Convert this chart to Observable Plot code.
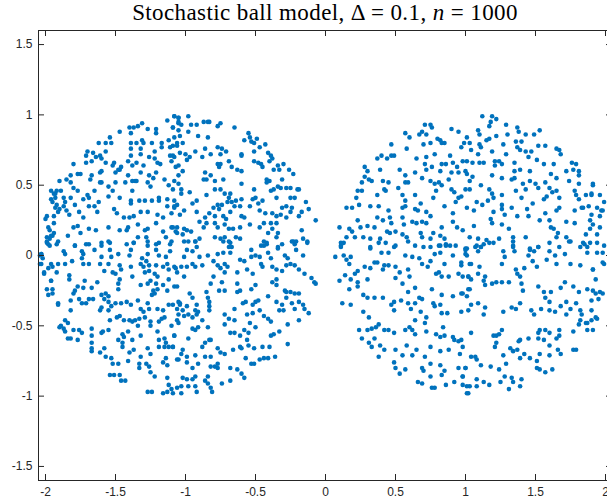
<!DOCTYPE html>
<html>
<head>
<meta charset="utf-8">
<script src="https://cdn.jsdelivr.net/npm/d3@7"></script>
<script src="https://cdn.jsdelivr.net/npm/@observablehq/plot@0.6"></script>
<style>
  html, body { margin: 0; padding: 0; background: #fff; overflow: hidden; }
  #title { width: 650px; height: 26px; line-height: 26px; text-align: center; font-family: "Liberation Serif", serif; font-size: 23px; letter-spacing: 0.4px; color: #000; white-space: nowrap; }
  #title i { font-style: italic; }
  #chart svg { overflow: visible; max-width: none; }
</style>
</head>
<body>
<div id="title">Stochastic ball model, Δ = 0.1, <i>n</i> = 1000</div>
<div id="chart"></div>
<script>
// Tick values
const xTicks = [-2, -1.5, -1, -0.5, 0, 0.5, 1, 1.5, 2];
const yTicks = [-1.5, -1, -0.5, 0, 0.5, 1, 1.5];

// Left ball, upper-left region
const leftA = [[-1.08,0.99],[-1.05,0.98],[-1.13,0.96],[-1.05,0.94],[-1.31,0.94],[-1.34,0.92],[-1.37,0.91],[-1.40,0.91],[-1.21,0.90],[-1.21,0.87],[-1.27,0.90],[-1.39,0.87],[-1.09,0.91],[-1.05,0.89],[-1.47,0.88],
[-1.54,0.84],[-1.53,0.80],[-1.57,0.80],[-1.62,0.80],[-1.39,0.80],[-1.35,0.80],[-1.31,0.82],[-1.30,0.80],[-1.24,0.80],[-1.17,0.80],[-1.12,0.82],[-1.06,0.80],[-1.09,0.78],[-1.11,0.77],[-1.17,0.77],[-1.22,0.74],[-1.32,0.76],[-1.39,0.76],[-1.70,0.74],[-1.66,0.73],[-1.61,0.71],[-1.60,0.69],[-1.64,0.70],[-1.57,0.74],[-1.71,0.71],
[-1.80,0.65],[-1.71,0.66],[-1.67,0.67],[-1.51,0.66],[-1.52,0.64],[-1.57,0.66],[-1.41,0.67],[-1.39,0.71],[-1.38,0.64],[-1.35,0.66],[-1.32,0.72],[-1.26,0.70],[-1.22,0.69],[-1.20,0.66],[-1.18,0.65],[-1.11,0.71],[-1.08,0.70],[-1.10,0.67],[-1.05,0.64],[-1.30,0.64],[-1.47,0.61],[-1.46,0.63],
[-1.77,0.58],[-1.75,0.58],[-1.82,0.57],[-1.82,0.52],[-1.85,0.54],[-1.90,0.53],[-1.67,0.57],[-1.68,0.54],[-1.61,0.59],[-1.60,0.60],[-1.50,0.59],[-1.48,0.61],[-1.41,0.57],[-1.38,0.53],[-1.36,0.53],[-1.35,0.53],[-1.43,0.52],[-1.50,0.52],[-1.55,0.49],[-1.61,0.52],[-1.60,0.52],[-1.26,0.57],[-1.23,0.55],[-1.21,0.59],[-1.15,0.54],[-1.12,0.50],[-1.08,0.53],[-1.05,0.57],[-1.27,0.52],[-1.25,0.49],[-1.32,0.59],
[-1.96,0.46],[-1.92,0.46],[-1.89,0.46],[-1.93,0.44],[-1.96,0.40],[-1.87,0.41],[-1.82,0.41],[-1.86,0.38],[-1.73,0.40],[-1.69,0.41],[-1.65,0.46],[-1.70,0.43],[-1.62,0.38],[-1.55,0.42],[-1.47,0.41],[-1.39,0.39],[-1.39,0.37],[-1.33,0.39],[-1.29,0.39],[-1.24,0.39],[-1.19,0.39],[-1.13,0.40],[-1.08,0.39],[-1.08,0.34],[-1.13,0.35],[-1.19,0.41],[-1.38,0.46],[-1.52,0.46],[-1.77,0.46],[-1.80,0.48],
[-1.92,0.36],[-1.93,0.34],[-1.90,0.33],[-1.87,0.35],[-1.85,0.32],[-1.83,0.29],[-1.91,0.31],[-1.94,0.28],[-1.99,0.28],[-2.00,0.26],[-1.79,0.36],[-1.76,0.31],[-1.73,0.27],[-1.69,0.35],[-1.65,0.35],[-1.63,0.31],[-1.51,0.33],[-1.49,0.30],[-1.44,0.27],[-1.40,0.27],[-1.37,0.28],[-1.32,0.31],[-1.27,0.31],[-1.20,0.29],[-1.16,0.27],[-1.10,0.30],[-1.06,0.36],
[-1.98,0.20],[-1.99,0.13],[-1.97,0.12],[-1.95,0.14],[-1.80,0.20],[-1.77,0.21],[-1.75,0.16],[-1.69,0.19],[-1.64,0.18],[-1.55,0.20],[-1.47,0.18],[-1.42,0.18],[-1.41,0.20],[-1.34,0.22],[-1.29,0.18],[-1.27,0.19],[-1.21,0.23],[-1.16,0.17],[-1.10,0.20],[-1.07,0.17],[-1.84,0.14],[-1.79,0.07],[-1.71,0.08],[-1.60,0.09],[-1.54,0.09],[-1.42,0.08],[-1.37,0.09],[-1.34,0.13],[-1.28,0.13],[-1.27,0.10],[-1.21,0.08],[-1.14,0.13],[-1.11,0.08],[-1.91,0.10],
[-2.03,0.01],[-2.02,-0.02],[-2.04,-0.06],[-2.01,-0.13],[-1.98,-0.28],[-1.96,-0.18],[-1.95,-0.24],[-1.98,-0.09],[-1.95,-0.08],[-1.96,0.14],[-1.94,0.16],[-1.97,0.18],[-1.94,0.23],[-1.93,0.41],[-1.95,0.38],[-1.94,0.44],[-1.91,-0.35],[-1.90,-0.51],[-1.99,0.10],[-1.98,0.08]];

// Left ball, upper-right region
const leftB = [[-1.08,0.99],[-1.05,0.98],[-1.05,0.95],[-0.98,0.99],[-1.03,0.93],[-0.96,0.93],[-0.92,0.93],[-0.87,0.95],[-0.84,0.95],[-0.83,0.95],[-0.77,0.92],[-0.75,0.94],[-0.98,0.88],[-1.09,0.91],[-0.65,0.91],[-0.55,0.87],[-0.54,0.84],
[-1.08,0.84],[-1.04,0.85],[-1.02,0.80],[-1.06,0.78],[-0.91,0.85],[-0.84,0.84],[-0.77,0.77],[-0.74,0.76],[-0.71,0.74],[-0.58,0.82],[-0.53,0.81],[-0.51,0.80],[-0.49,0.83],[-0.47,0.77],[-0.43,0.79],[-0.51,0.74],[-1.09,0.71],
[-1.04,0.73],[-1.00,0.72],[-0.97,0.70],[-0.99,0.68],[-0.93,0.74],[-0.86,0.76],[-0.82,0.72],[-0.75,0.72],[-0.88,0.70],[-0.60,0.72],[-0.60,0.71],[-0.41,0.73],[-0.39,0.71],[-0.38,0.69],[-0.40,0.67],[-0.69,0.67],[-0.77,0.65],[-0.75,0.65],[-0.51,0.67],[-0.48,0.66],[-0.46,0.65],[-0.45,0.63],[-0.37,0.61],[-0.34,0.64],[-0.30,0.65],[-0.26,0.61],[-0.23,0.58],[-0.33,0.61],[-0.63,0.61],[-0.60,0.60],[-0.76,0.63],[-0.67,0.63],[-1.02,0.60],[-1.07,0.63],
[-0.86,0.59],[-0.85,0.54],[-0.87,0.54],[-0.82,0.57],[-0.79,0.53],[-0.73,0.54],[-0.60,0.51],[-1.05,0.51],[-0.42,0.54],[-0.40,0.53],[-0.42,0.52],[-0.34,0.49],[-0.32,0.48],[-0.28,0.48],[-0.31,0.54],[-0.37,0.47],[-0.39,0.46],[-0.25,0.48],[-0.20,0.47],[-0.19,0.47],[-1.09,0.47],
[-1.03,0.47],[-1.03,0.44],[-0.97,0.45],[-0.92,0.39],[-0.95,0.37],[-0.85,0.43],[-0.79,0.47],[-0.75,0.47],[-0.72,0.44],[-0.69,0.41],[-0.68,0.44],[-0.67,0.38],[-0.64,0.39],[-0.60,0.40],[-0.51,0.47],[-0.52,0.40],[-0.50,0.41],[-0.45,0.39],[-0.35,0.41],[-0.28,0.35],[-0.25,0.41],[-0.22,0.41],[-0.14,0.38],[-0.12,0.33],[-0.07,0.25],[-1.08,0.35],[-1.01,0.32],[-1.04,0.29],
[-0.80,0.34],[-0.77,0.36],[-0.74,0.36],[-0.76,0.33],[-0.70,0.38],[-0.83,0.30],[-0.79,0.28],[-0.73,0.28],[-0.71,0.26],[-0.68,0.31],[-0.65,0.35],[-0.61,0.35],[-0.60,0.28],[-0.58,0.27],[-0.54,0.35],[-0.48,0.37],[-0.47,0.32],[-0.43,0.30],[-0.38,0.30],[-0.35,0.28],[-0.32,0.29],[-0.31,0.34],[-0.24,0.34],[-0.25,0.31],[-0.19,0.28],[-0.17,0.31],[-0.92,0.31],[-0.86,0.27],[-0.90,0.24],
[-1.09,0.20],[-1.06,0.20],[-1.01,0.19],[-0.99,0.18],[-1.06,0.16],[-1.02,0.15],[-0.96,0.17],[-0.87,0.20],[-0.85,0.23],[-0.79,0.23],[-0.77,0.20],[-0.72,0.22],[-0.69,0.19],[-0.66,0.19],[-0.61,0.20],[-0.54,0.22],[-0.47,0.20],[-0.44,0.23],[-0.39,0.23],[-0.35,0.23],[-0.38,0.19],[-0.41,0.16],[-0.34,0.16],[-0.28,0.27],[-0.17,0.18],[-0.90,0.12],[-0.93,0.10],[-0.79,0.13],[-0.75,0.12],[-0.72,0.13],[-0.69,0.10],[-0.64,0.13],[-0.61,0.12],[-0.44,0.07],[-0.42,0.09],[-0.35,0.13],[-0.34,0.05],[-0.23,0.10],[-0.21,0.10],[-0.22,0.08],[-0.16,0.12],[-0.13,0.09],[-1.01,0.10],[-0.67,0.06]];

// Left ball, lower-left region
const leftC = [[-1.99,0.09],[-1.97,0.07],[-1.92,0.08],[-1.79,0.07],[-1.69,0.08],[-1.60,0.07],[-1.55,0.10],[-1.37,0.09],[-1.27,0.07],[-1.19,0.09],[-1.10,0.10],[-2.04,0.00],[-2.03,0.01],[-2.03,-0.06],[-1.87,0.03],[-1.86,0.01],[-1.74,0.03],[-1.73,0.01],[-1.74,-0.02],[-1.65,0.04],[-1.60,-0.01],[-1.54,0.04],[-1.53,-0.01],[-1.48,0.01],[-1.39,0.04],[-1.40,0.00],[-1.27,0.01],[-1.31,-0.02],[-1.21,0.04],[-1.19,0.00],[-1.14,-0.01],[-1.11,0.03],
[-1.96,-0.06],[-2.01,-0.12],[-1.91,-0.06],[-1.86,-0.06],[-1.92,-0.12],[-1.83,-0.14],[-1.81,-0.04],[-1.73,-0.06],[-1.69,-0.06],[-1.61,-0.06],[-1.58,-0.11],[-1.55,-0.06],[-1.52,-0.12],[-1.50,-0.13],[-1.47,-0.07],[-1.46,-0.10],[-1.39,-0.08],[-1.32,-0.06],[-1.30,-0.08],[-1.28,-0.04],[-1.26,-0.07],[-1.29,-0.12],[-1.26,-0.11],[-1.21,-0.07],[-1.16,-0.08],[-1.13,-0.06],[-1.12,-0.10],[-1.08,-0.08],[-1.22,-0.13],[-1.20,-0.15],
[-1.96,-0.18],[-1.99,-0.24],[-1.95,-0.27],[-1.83,-0.17],[-1.79,-0.25],[-1.77,-0.22],[-1.72,-0.18],[-1.73,-0.23],[-1.67,-0.23],[-1.69,-0.31],[-1.63,-0.19],[-1.57,-0.27],[-1.55,-0.29],[-1.48,-0.20],[-1.47,-0.17],[-1.48,-0.24],[-1.38,-0.15],[-1.32,-0.21],[-1.27,-0.20],[-1.25,-0.18],[-1.21,-0.20],[-1.20,-0.24],[-1.23,-0.25],[-1.22,-0.27],[-1.24,-0.28],[-1.16,-0.21],[-1.13,-0.25],[-1.12,-0.17],[-1.08,-0.22],[-1.04,-0.34],[-1.06,-0.38],
[-1.91,-0.34],[-1.82,-0.32],[-1.80,-0.27],[-1.76,-0.31],[-1.74,-0.34],[-1.71,-0.34],[-1.66,-0.31],[-1.60,-0.28],[-1.58,-0.31],[-1.55,-0.33],[-1.53,-0.36],[-1.60,-0.37],[-1.61,-0.39],[-1.50,-0.34],[-1.46,-0.34],[-1.42,-0.33],[-1.39,-0.35],[-1.34,-0.32],[-1.32,-0.38],[-1.30,-0.40],[-1.27,-0.34],[-1.26,-0.38],[-1.20,-0.38],[-1.16,-0.39],[-1.12,-0.35],[-1.09,-0.35],
[-1.82,-0.39],[-1.55,-0.39],[-1.49,-0.44],[-1.47,-0.43],[-1.44,-0.46],[-1.40,-0.46],[-1.38,-0.47],[-1.36,-0.46],[-1.33,-0.45],[-1.34,-0.50],[-1.29,-0.44],[-1.25,-0.47],[-1.19,-0.47],[-1.17,-0.45],[-1.15,-0.44],[-1.86,-0.46],[-1.84,-0.48],[-1.54,-0.46],
[-1.89,-0.50],[-1.87,-0.52],[-1.86,-0.54],[-1.80,-0.53],[-1.84,-0.59],[-1.82,-0.59],[-1.76,-0.53],[-1.74,-0.55],[-1.77,-0.60],[-1.67,-0.52],[-1.67,-0.57],[-1.60,-0.55],[-1.59,-0.54],[-1.55,-0.53],[-1.48,-0.60],[-1.45,-0.56],[-1.44,-0.58],[-1.41,-0.54],[-1.38,-0.60],[-1.32,-0.57],[-1.25,-0.50],[-1.20,-0.54],[-1.19,-0.60],[-1.15,-0.59],[-1.10,-0.50],[-1.08,-0.57],[-1.06,-0.46],
[-1.67,-0.62],[-1.67,-0.66],[-1.67,-0.68],[-1.61,-0.69],[-1.58,-0.66],[-1.57,-0.72],[-1.53,-0.73],[-1.45,-0.62],[-1.45,-0.65],[-1.40,-0.69],[-1.37,-0.67],[-1.32,-0.72],[-1.27,-0.66],[-1.25,-0.70],[-1.19,-0.65],[-1.14,-0.62],[-1.15,-0.65],[-1.12,-0.65],[-1.09,-0.65],[-1.14,-0.73],[-1.06,-0.74],
[-1.52,-0.77],[-1.48,-0.77],[-1.41,-0.75],[-1.54,-0.85],[-1.51,-0.85],[-1.47,-0.85],[-1.46,-0.89],[-1.43,-0.89],[-1.33,-0.77],[-1.33,-0.80],[-1.28,-0.77],[-1.26,-0.79],[-1.25,-0.83],[-1.22,-0.86],[-1.16,-0.76],[-1.13,-0.78],[-1.13,-0.87],[-1.12,-0.92],[-1.10,-0.95],[-1.27,-0.97],[-1.24,-0.97],[-1.16,-0.98],[-1.13,-0.97],[-1.09,-0.98],[-1.06,-0.94]];

// Left ball, lower-right region
const leftD = [[-0.98,0.10],[-0.93,0.10],[-0.92,0.06],[-0.99,0.04],[-0.95,0.03],[-0.73,0.10],[-0.68,0.09],[-0.69,0.06],[-0.53,0.04],[-0.46,0.07],[-0.44,0.10],[-0.42,0.08],[-0.34,0.06],[-0.31,0.08],[-0.24,0.10],[-0.21,0.04],[-0.13,0.10],[-0.77,0.01],[-0.73,0.02],[-0.68,0.02],[-0.61,-0.03],[-0.58,-0.04],[-0.53,-0.01],[-0.50,0.00],[-0.47,-0.01],[-0.41,0.02],[-0.39,-0.02],[-0.29,0.00],[-0.27,-0.02],[-0.16,0.00],[-1.07,-0.09],[-1.01,-0.01],[-0.90,-0.01],[-0.84,0.00],[-0.80,-0.04],
[-1.06,-0.12],[-1.03,-0.08],[-0.99,-0.08],[-0.95,-0.06],[-0.93,-0.08],[-0.88,-0.07],[-0.77,-0.07],[-0.75,-0.09],[-0.72,-0.06],[-0.70,-0.08],[-0.72,-0.12],[-0.63,-0.12],[-0.56,-0.10],[-0.52,-0.13],[-0.46,-0.06],[-0.45,-0.08],[-0.38,-0.08],[-0.35,-0.10],[-0.31,-0.11],[-0.28,-0.07],[-0.25,-0.06],[-0.22,-0.07],[-0.19,-0.10],[-0.15,-0.13],[-0.10,-0.16],[-0.08,-0.19],[-0.07,-0.20],
[-1.01,-0.15],[-1.06,-0.22],[-0.80,-0.15],[-0.82,-0.20],[-0.85,-0.26],[-0.74,-0.19],[-0.76,-0.25],[-0.72,-0.25],[-0.63,-0.20],[-0.61,-0.25],[-0.63,-0.26],[-0.50,-0.21],[-0.53,-0.24],[-0.38,-0.19],[-0.35,-0.17],[-0.35,-0.21],[-0.29,-0.25],[-0.28,-0.26],[-0.25,-0.26],[-0.22,-0.27],[-0.19,-0.27],[-0.97,-0.27],[-0.95,-0.30],[-0.84,-0.30],
[-1.05,-0.33],[-1.04,-0.35],[-1.02,-0.39],[-0.99,-0.36],[-0.93,-0.39],[-0.91,-0.40],[-0.92,-0.35],[-0.83,-0.33],[-0.83,-0.36],[-0.83,-0.39],[-0.65,-0.38],[-0.59,-0.34],[-0.57,-0.33],[-0.52,-0.35],[-0.50,-0.33],[-0.48,-0.32],[-0.47,-0.39],[-0.41,-0.29],[-0.35,-0.33],[-0.28,-0.30],[-0.31,-0.35],[-0.33,-0.39],[-0.30,-0.39],[-0.24,-0.34],[-0.22,-0.38],[-0.19,-0.33],[-0.16,-0.35],[-0.15,-0.38],[-0.12,-0.41],
[-1.05,-0.42],[-1.01,-0.43],[-0.98,-0.42],[-0.95,-0.44],[-0.92,-0.42],[-0.88,-0.46],[-1.05,-0.48],[-0.72,-0.42],[-0.72,-0.49],[-0.69,-0.45],[-0.65,-0.46],[-0.56,-0.42],[-0.54,-0.48],[-0.52,-0.41],[-0.50,-0.51],[-0.44,-0.43],[-0.41,-0.45],[-0.39,-0.47],[-0.39,-0.57],[-0.37,-0.56],[-0.33,-0.54],[-0.27,-0.49],[-0.19,-0.46],[-0.27,-0.63],
[-0.95,-0.52],[-0.93,-0.53],[-0.98,-0.59],[-0.91,-0.51],[-0.84,-0.51],[-0.83,-0.60],[-1.08,-0.57],[-0.68,-0.55],[-0.65,-0.55],[-0.61,-0.57],[-0.58,-0.53],[-0.55,-0.55],[-0.56,-0.60],
[-1.09,-0.65],[-1.02,-0.67],[-1.03,-0.70],[-0.99,-0.72],[-0.93,-0.71],[-0.88,-0.65],[-0.86,-0.62],[-0.82,-0.60],[-0.86,-0.72],[-0.82,-0.72],[-0.77,-0.66],[-0.75,-0.69],[-0.72,-0.70],[-0.66,-0.67],[-0.61,-0.65],[-0.60,-0.66],[-0.57,-0.73],[-0.55,-0.64],[-0.51,-0.66],[-0.45,-0.65],[-0.40,-0.65],[-0.47,-0.74],[-0.44,-0.73],[-0.41,-0.73],[-0.36,-0.72],[-0.53,-0.77],[-0.51,-0.77],
[-1.05,-0.74],[-0.99,-0.76],[-0.95,-0.80],[-0.91,-0.77],[-0.82,-0.79],[-0.79,-0.79],[-0.77,-0.77],[-0.77,-0.80],[-1.02,-0.87],[-0.99,-0.88],[-0.95,-0.88],[-0.93,-0.86],[-1.03,-0.93],[-0.98,-0.93],[-0.93,-0.93],[-0.92,-0.97],[-1.03,-0.98],[-0.86,-0.89],[-0.84,-0.91],[-0.82,-0.94],[-0.81,-0.97],[-0.84,-0.86],[-0.74,-0.91],[-0.68,-0.80],[-0.68,-0.89],[-0.63,-0.81],[-0.60,-0.84],[-0.58,-0.87]];

// Right ball, upper-left region
const rightA = [[0.71,0.93],[0.75,0.93],[0.76,0.91],[0.69,0.88],[0.67,0.86],[0.72,0.86],[0.57,0.87],[0.60,0.84],[0.90,0.90],[0.95,0.88],[0.80,0.83],[0.82,0.82],[0.83,0.80],[0.85,0.80],[0.70,0.79],[0.75,0.80],[0.47,0.79],[0.58,0.76],[0.47,0.71],[0.49,0.71],[0.44,0.69],[0.40,0.71],[0.37,0.69],[0.65,0.69],[0.72,0.70],[0.78,0.72],[0.83,0.65],[0.86,0.65],[0.89,0.71],[0.71,0.65],[0.76,0.63],[0.91,0.66],[0.94,0.63],[0.90,0.59],[0.95,0.59],[0.82,0.60],[0.72,0.61],[0.64,0.59],[0.57,0.57],[0.53,0.61],[0.39,0.61],[0.28,0.63],[0.30,0.60],[0.28,0.56],[0.31,0.54],[0.33,0.53],[0.26,0.52],[0.41,0.53],[0.45,0.52],[0.52,0.48],[0.57,0.52],[0.59,0.52],[0.69,0.55],[0.75,0.53],[0.78,0.51],[0.81,0.52],[0.83,0.50],[0.79,0.46],[0.90,0.47],[0.88,0.54],[0.92,0.45],[0.95,0.41],[0.93,0.38],
[0.23,0.46],[0.26,0.46],[0.22,0.41],[0.24,0.36],[0.37,0.43],[0.42,0.47],[0.43,0.46],[0.55,0.43],[0.57,0.39],[0.57,0.35],[0.64,0.43],[0.68,0.37],[0.72,0.31],[0.77,0.41],[0.85,0.35],[0.91,0.30],[0.55,0.34],[0.64,0.33],[0.66,0.32],[0.15,0.34],[0.19,0.34],[0.32,0.35],[0.38,0.35],[0.45,0.32],[0.37,0.27],[0.41,0.25],[0.46,0.27],[0.47,0.23],[0.55,0.27],[0.56,0.22],[0.62,0.24],[0.65,0.23],[0.69,0.24],[0.72,0.23],[0.75,0.28],[0.83,0.20],[0.91,0.24],[0.94,0.20],[0.23,0.25],[0.10,0.20],[0.17,0.19],[0.19,0.17],[0.25,0.20],[0.30,0.21],[0.35,0.20],[0.44,0.17],[0.46,0.16],[0.50,0.17],[0.55,0.15],[0.58,0.13],[0.68,0.16],[0.77,0.16],[0.82,0.14],[0.85,0.12],[0.15,0.13],[0.11,0.09],[0.11,0.06],[0.21,0.13],[0.27,0.13],[0.32,0.12],[0.39,0.12],[0.43,0.09],[0.49,0.06],[0.69,0.13],[0.75,0.12],[0.81,0.07],[0.86,0.07],[0.32,0.06]];

// Right ball, upper-right region
const rightB = [[1.12,0.99],[1.19,0.99],[1.22,0.97],[1.18,0.95],[1.17,0.92],[1.09,0.89],[1.10,0.86],[1.15,0.82],[1.17,0.83],[1.22,0.85],[1.29,0.93],[1.30,0.86],[1.37,0.91],[1.38,0.88],[1.43,0.86],[1.49,0.86],[1.53,0.89],[1.01,0.84],[1.03,0.80],[0.99,0.80],[0.97,0.77],[1.10,0.79],[1.11,0.77],[1.27,0.79],[1.36,0.81],[1.40,0.81],[1.37,0.77],[1.39,0.75],[1.43,0.74],[1.47,0.74],[1.52,0.78],[1.57,0.78],[1.45,0.70],[1.51,0.68],[1.04,0.75],[1.19,0.74],[1.09,0.72],[1.29,0.72],[1.65,0.76],[1.67,0.75],[1.68,0.72],
[0.98,0.67],[1.01,0.67],[1.05,0.66],[1.10,0.66],[1.13,0.66],[1.21,0.67],[1.24,0.67],[1.26,0.65],[1.21,0.64],[1.35,0.66],[1.39,0.61],[1.35,0.60],[1.46,0.60],[1.56,0.65],[1.63,0.65],[1.76,0.66],[1.79,0.65],[1.72,0.60],[1.77,0.61],[1.81,0.60],[1.81,0.57],[1.00,0.60],[1.01,0.58],[1.05,0.56],[1.03,0.53],[1.19,0.57],[1.26,0.55],[1.33,0.54],[1.35,0.55],[1.41,0.51],[1.46,0.53],[1.50,0.51],[1.52,0.48],[1.57,0.52],[1.61,0.58],[1.65,0.55],[1.74,0.53],[1.81,0.51],[1.91,0.51],[1.78,0.46],[1.79,0.43],[1.81,0.40],[1.86,0.43],[1.90,0.43],
[1.00,0.47],[1.03,0.47],[0.97,0.42],[1.11,0.50],[1.17,0.47],[1.19,0.44],[1.20,0.41],[1.16,0.39],[1.08,0.38],[1.12,0.36],[1.26,0.43],[1.36,0.46],[1.40,0.41],[1.43,0.47],[1.48,0.37],[1.56,0.40],[1.58,0.42],[1.60,0.48],[1.62,0.45],[1.65,0.46],[1.67,0.41],[1.67,0.34],[1.65,0.32],[1.78,0.32],[1.83,0.34],[1.88,0.35],[1.94,0.34],[1.97,0.32],[1.90,0.29],[1.26,0.36],[1.26,0.33],[1.28,0.29],[1.20,0.31],[1.18,0.26],[1.19,0.23],[1.01,0.34],[1.06,0.32],[1.33,0.34],[1.37,0.28],[1.44,0.33],[1.45,0.28],[1.53,0.25],[1.57,0.30],[1.60,0.25],[1.61,0.20],[1.63,0.19],[1.66,0.16],[1.72,0.24],[1.78,0.23],[1.89,0.19],
[1.06,0.21],[0.98,0.18],[1.03,0.13],[1.09,0.12],[1.15,0.11],[1.13,0.08],[1.11,0.06],[1.20,0.09],[1.24,0.12],[1.26,0.22],[1.31,0.19],[1.34,0.13],[1.34,0.06],[1.43,0.13],[1.52,0.06],[1.46,0.05],[1.60,0.09],[1.65,0.13],[1.72,0.13],[1.74,0.10],[1.85,0.08],[1.82,0.06],[1.01,0.05],[1.07,0.06]];

// Right ball, lower-left region
const rightC = [[0.11,0.07],[0.13,0.09],[0.32,0.05],[0.38,0.09],[0.50,0.07],[0.59,0.10],[0.64,0.07],[0.70,0.06],[0.75,0.06],[0.82,0.07],[0.86,0.08],[0.89,0.07],[0.93,0.07],[1.00,0.05],[0.07,-0.01],[0.13,0.00],[0.15,-0.03],[0.17,-0.06],[0.18,-0.01],[0.40,0.02],[0.45,0.02],[0.57,0.00],[0.62,-0.01],[0.67,-0.02],[0.69,-0.06],[0.75,-0.04],[0.78,0.01],[0.82,0.02],[0.85,-0.06],[0.91,0.00],[0.97,-0.05],[1.01,0.00],[1.04,-0.06],
[0.35,-0.05],[0.37,-0.05],[0.42,-0.07],[0.41,-0.10],[0.45,-0.07],[0.28,-0.08],[0.32,-0.09],[0.23,-0.11],[0.21,-0.13],[0.14,-0.14],[0.10,-0.18],[0.18,-0.17],[0.17,-0.24],[0.23,-0.19],[0.23,-0.22],[0.30,-0.17],[0.50,-0.08],[0.53,-0.12],[0.50,-0.16],[0.59,-0.10],[0.60,-0.15],[0.73,-0.08],[0.79,-0.13],[0.81,-0.12],[0.83,-0.15],[0.88,-0.15],[0.95,-0.13],[1.02,-0.15],[1.04,-0.17],
[0.55,-0.20],[0.59,-0.26],[0.64,-0.23],[0.67,-0.30],[0.69,-0.31],[0.76,-0.24],[0.83,-0.28],[0.91,-0.29],[0.98,-0.27],[1.02,-0.24],[0.27,-0.28],[0.30,-0.30],[0.35,-0.30],[0.41,-0.30],[0.12,-0.34],[0.18,-0.35],[0.27,-0.40],[0.31,-0.44],[0.47,-0.35],[0.49,-0.33],[0.49,-0.39],[0.54,-0.32],[0.59,-0.34],[0.61,-0.38],[0.64,-0.34],[0.68,-0.40],[0.72,-0.44],[0.77,-0.34],[0.78,-0.36],[0.82,-0.35],[0.83,-0.41],[0.87,-0.41],[0.97,-0.40],[1.02,-0.39],[1.04,-0.35],
[0.38,-0.49],[0.36,-0.51],[0.33,-0.52],[0.30,-0.53],[0.24,-0.53],[0.26,-0.59],[0.42,-0.53],[0.45,-0.53],[0.49,-0.55],[0.57,-0.53],[0.60,-0.51],[0.62,-0.53],[0.64,-0.46],[0.71,-0.48],[0.72,-0.54],[0.64,-0.56],[0.79,-0.56],[0.82,-0.58],[0.85,-0.57],[0.84,-0.51],[0.91,-0.58],[0.92,-0.60],[0.95,-0.61],[0.98,-0.65],[1.04,-0.55],
[0.31,-0.62],[0.35,-0.59],[0.33,-0.65],[0.39,-0.64],[0.38,-0.72],[0.42,-0.67],[0.50,-0.67],[0.55,-0.71],[0.58,-0.64],[0.62,-0.71],[0.65,-0.67],[0.71,-0.72],[0.75,-0.65],[0.82,-0.68],[0.88,-0.67],[0.96,-0.70],[1.04,-0.72],
[0.49,-0.76],[0.50,-0.80],[0.53,-0.84],[0.57,-0.81],[0.69,-0.80],[0.70,-0.82],[0.75,-0.77],[0.82,-0.78],[0.83,-0.85],[0.85,-0.82],[0.95,-0.80],[0.98,-0.86],[1.00,-0.80],[0.92,-0.90],[0.98,-0.92],[1.03,-0.93],[1.02,-0.98],[0.66,-0.90],[0.69,-0.91],[0.76,-0.94],[0.78,-0.94],[0.86,-0.92],[0.75,-0.86]];

// Right ball, lower-right region
const rightD = [[1.08,0.07],[1.11,0.06],[1.17,0.09],[1.34,0.10],[1.34,0.07],[1.46,0.04],[1.52,0.06],[1.60,0.03],[1.67,0.06],[1.75,0.10],[1.84,0.09],[1.87,0.06],[1.87,0.02],[1.94,0.02],[1.98,0.02],[1.00,0.04],[1.00,0.01],[1.09,0.03],[1.27,0.03],[1.28,-0.01],[1.35,0.03],[1.45,0.00],[1.49,0.03],[1.64,0.00],[1.71,0.01],[1.58,-0.03],
[0.97,-0.07],[1.03,-0.06],[1.10,-0.08],[1.26,-0.06],[1.36,-0.10],[1.37,-0.13],[1.39,-0.15],[1.42,-0.09],[1.48,-0.04],[1.51,-0.08],[1.65,-0.06],[1.75,-0.06],[1.82,-0.07],[1.91,-0.10],[1.98,-0.05],[0.98,-0.15],[1.02,-0.15],[1.09,-0.13],[1.14,-0.15],[1.13,-0.18],[1.14,-0.21],[1.19,-0.20],[1.22,-0.19],[1.26,-0.19],[1.31,-0.19],[1.40,-0.20],[1.41,-0.25],[1.52,-0.22],[1.56,-0.26],[1.61,-0.26],[1.68,-0.23],[1.71,-0.19],[1.77,-0.22],[1.81,-0.26],[1.87,-0.24],[1.91,-0.25],[1.93,-0.27],[1.98,-0.27],[0.97,-0.27],[1.03,-0.24],[1.01,-0.29],
[1.09,-0.34],[1.14,-0.37],[1.13,-0.42],[1.27,-0.40],[1.33,-0.37],[1.36,-0.38],[1.39,-0.34],[1.47,-0.39],[1.49,-0.42],[1.54,-0.38],[1.57,-0.30],[1.60,-0.33],[1.60,-0.39],[1.64,-0.40],[1.68,-0.36],[1.72,-0.42],[1.72,-0.33],[1.75,-0.38],[1.79,-0.34],[1.82,-0.39],[1.83,-0.42],[1.82,-0.46],[1.81,-0.49],[1.87,-0.48],[1.90,-0.39],[1.94,-0.45],[1.87,-0.53],[1.91,-0.53],[1.77,-0.54],
[1.67,-0.53],[1.67,-0.57],[1.65,-0.59],[1.60,-0.55],[1.57,-0.53],[1.53,-0.53],[1.52,-0.55],[1.52,-0.59],[1.45,-0.59],[1.39,-0.60],[1.38,-0.61],[1.26,-0.53],[1.24,-0.56],[1.22,-0.57],[1.20,-0.57],[1.22,-0.62],[1.21,-0.65],[1.27,-0.71],[1.32,-0.66],[1.34,-0.68],[1.37,-0.67],[1.42,-0.70],[1.46,-0.73],[1.51,-0.75],[1.53,-0.70],[1.60,-0.71],[1.66,-0.67],[1.68,-0.70],[1.77,-0.67],[1.79,-0.67],[1.56,-0.60],[1.60,-0.64],[0.97,-0.60],
[1.07,-0.72],[1.08,-0.74],[1.11,-0.78],[1.18,-0.79],[1.24,-0.81],[1.29,-0.77],[1.39,-0.73],[1.51,-0.80],[1.53,-0.81],[1.57,-0.83],[1.62,-0.81],[1.33,-0.87],[1.28,-0.86],[1.25,-0.90],[1.34,-0.90],[1.40,-0.88],[1.39,-0.93],[1.31,-0.95],[1.13,-0.90],[1.08,-0.88],[1.01,-0.93],[1.01,-0.98],[1.17,-0.92],[1.00,-0.80],[0.98,-0.86],[1.08,-0.93]];

// Right ball, right edge
const rightE = [[1.91,0.50],[1.96,0.43],[1.90,0.44],[1.99,0.38],[1.98,0.32],[1.96,0.28],[1.91,0.22],[1.96,0.20],[1.94,0.15],[1.89,0.09],[1.94,0.09],[1.99,0.07],[1.99,-0.06],[1.91,-0.10],[1.93,-0.17],[1.96,-0.26],[1.95,-0.31],[1.90,-0.32],[1.93,-0.44],[1.90,-0.46],[1.86,-0.48],[1.89,0.25],[1.84,0.34],[1.86,0.15]];

const points = [...leftA, ...leftB, ...leftC, ...leftD, ...rightA, ...rightB, ...rightC, ...rightD, ...rightE]
  .map(([x, y]) => ({x, y}));

const axisColor = "#262626";
const fmt = d => String(d);
const plotW = 607, plotH = 475;
const mL = 38, mR = -5, mT = 4, mB = 21;
const innerW = plotW - mL - mR, innerH = plotH - mT - mB;
const tick = 6;

const chart = Plot.plot({
  width: plotW,
  height: plotH,
  marginLeft: mL, marginRight: mR, marginTop: mT, marginBottom: mB,
  style: {fontFamily: "'Liberation Sans', Arial, sans-serif", fontSize: "12px", color: axisColor, background: "#fff", overflow: "visible"},
  x: {domain: [-2.05, 2.05]},
  y: {domain: [-1.6, 1.6]},
  marks: [
    Plot.dot(points, {x: "x", y: "y", r: 2.3, fill: "#0072BD", stroke: "none"}),
    Plot.frame({stroke: axisColor, strokeWidth: 1}),
    Plot.ruleX(xTicks, {x: d => d, insetTop: innerH - tick, stroke: axisColor}),
    Plot.ruleX(xTicks, {x: d => d, insetBottom: innerH - tick, stroke: axisColor}),
    Plot.ruleY(yTicks, {y: d => d, insetRight: innerW - tick, stroke: axisColor}),
    Plot.ruleY(yTicks, {y: d => d, insetLeft: innerW - tick, stroke: axisColor}),
    Plot.axisX({ticks: xTicks, tickFormat: fmt, tickSize: 0, tickPadding: 7, label: null, fill: axisColor}),
    Plot.axisY({ticks: yTicks, tickFormat: fmt, tickSize: 0, tickPadding: 6, label: null, fill: axisColor})
  ]
});
document.getElementById("chart").appendChild(chart);
</script>
</body>
</html>
